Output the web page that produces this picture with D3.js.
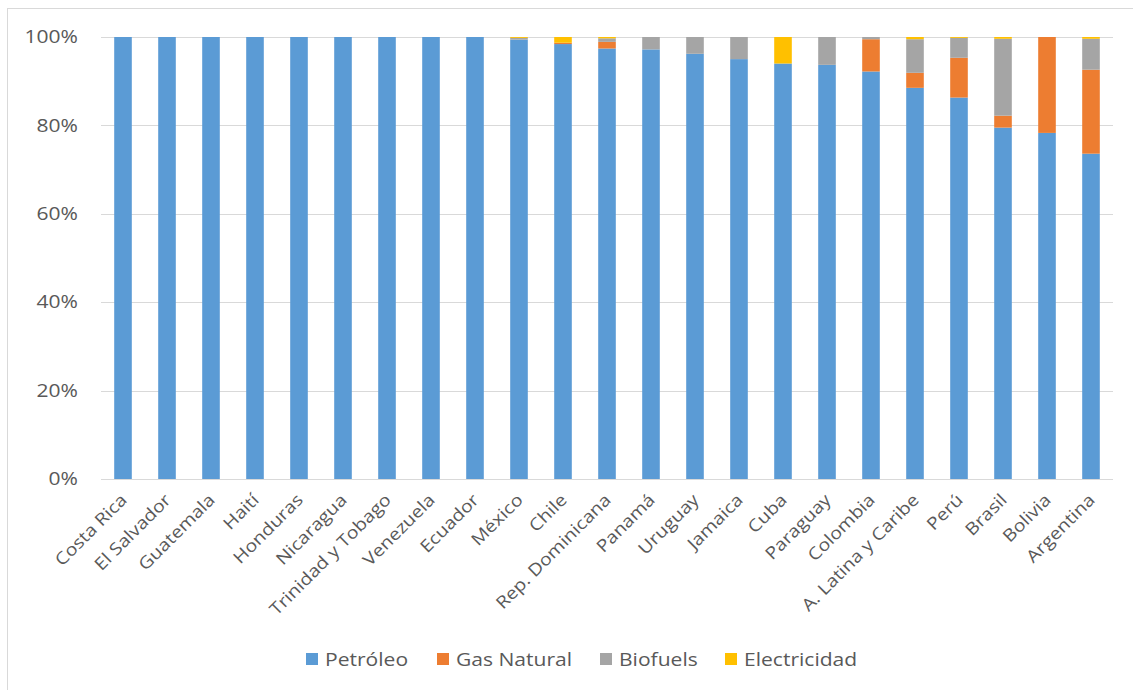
<!DOCTYPE html>
<head>
<meta charset="UTF-8">
<script src="https://d3js.org/d3.v7.min.js"></script>
<style>
  body { margin: 0; background: #fff; }
  text { font-family: "Open Sans", "Noto Sans", sans-serif; fill: #595959; }
</style>
</head>
<body>
<div id="my_dataviz"></div>
<script>

// categories and the share (%) of each fuel
var countries = ["Costa Rica", "El Salvador", "Guatemala", "Haití", "Honduras", "Nicaragua",
  "Trinidad y Tobago", "Venezuela", "Ecuador", "México", "Chile", "Rep. Dominicana", "Panamá",
  "Uruguay", "Jamaica", "Cuba", "Paraguay", "Colombia", "A. Latina y Caribe", "Perú", "Brasil",
  "Bolivia", "Argentina"];
var petroleo     = [100, 100, 100, 100, 100, 100, 100, 100, 100, 99.4, 98.4, 97.4, 97.2, 96.2, 95.0, 94.0, 93.7, 92.2, 88.5, 86.3, 79.5, 78.3, 73.6];
var gasNatural   = [0, 0, 0, 0, 0, 0, 0, 0, 0, 0, 0.3, 1.5, 0, 0, 0, 0, 0, 7.3, 3.4, 9.0, 2.7, 21.7, 19.0];
var biofuels     = [0, 0, 0, 0, 0, 0, 0, 0, 0, 0.4, 0, 0.8, 2.8, 3.8, 5.0, 0, 6.3, 0.5, 7.6, 4.5, 17.4, 0, 7.0];
var electricidad = [0, 0, 0, 0, 0, 0, 0, 0, 0, 0.2, 1.3, 0.3, 0, 0, 0, 6.0, 0, 0, 0.5, 0.2, 0.4, 0, 0.4];

var seriesNames = ["Petróleo", "Gas Natural", "Biofuels", "Electricidad"];
var seriesKeys = ["petroleo", "gas", "bio", "elec"];
var colors = ["#5b9bd5", "#ed7d31", "#a5a5a5", "#ffc000"];
var yTicks = [0, 20, 40, 60, 80, 100];

var data = countries.map(function(c, i) {
  return { country: c, petroleo: petroleo[i], gas: gasNatural[i], bio: biofuels[i], elec: electricidad[i] };
});

var W = 1133, H = 690;
var margin = {top: 37, right: 20, bottom: 211, left: 101};
var width = 1113 - margin.left,
    height = 479 - margin.top;

var root = d3.select("#my_dataviz")
  .append("svg")
    .attr("width", W)
    .attr("height", H);

// chart area border
root.append("rect")
  .attr("x", 7.5).attr("y", 8.5)
  .attr("width", W).attr("height", H)
  .attr("fill", "none")
  .attr("stroke", "#d9d9d9")
  .attr("stroke-width", 1);

var svg = root.append("g")
  .attr("transform", "translate(" + margin.left + "," + margin.top + ")");

var x = d3.scaleBand()
  .range([0, width])
  .domain(countries)
  .paddingInner(0.6)
  .paddingOuter(0.3);

var y = d3.scaleLinear()
  .range([height, 0])
  .domain([0, 100]);

// gridlines
svg.append("g")
  .selectAll("line")
  .data(yTicks)
  .enter()
  .append("line")
    .attr("x1", 0).attr("x2", width)
    .attr("y1", function(d) { return Math.round(y(d)) + 0.5; })
    .attr("y2", function(d) { return Math.round(y(d)) + 0.5; })
    .attr("stroke", "#d9d9d9")
    .attr("stroke-width", 1);

// y axis labels
var yAxis = svg.append("g")
  .call(d3.axisLeft(y).tickValues(yTicks).tickSize(0).tickFormat(function(d) { return d + "%"; }));
yAxis.select(".domain").remove();
yAxis.selectAll("text")
  .style("font-size", "18px")
  .attr("fill", "#595959")
  .attr("x", 0)
  .attr("transform", "translate(-23,0) scale(1.17,1)");

// stacked bars
var stack = d3.stack().keys(seriesKeys);
var layers = stack(data);

svg.append("g")
  .selectAll("g")
  .data(layers)
  .enter()
  .append("g")
    .attr("fill", function(d, i) { return colors[i]; })
  .selectAll("rect")
  .data(function(d) { return d; })
  .enter()
  .append("rect")
    .attr("x", function(d) { return x(d.data.country); })
    .attr("y", function(d) { return y(d[1]); })
    .attr("height", function(d) { return y(d[0]) - y(d[1]); })
    .attr("width", x.bandwidth());

// x axis labels
var xAxis = svg.append("g")
  .attr("transform", "translate(0," + height + ")")
  .call(d3.axisBottom(x).tickSize(0).tickPadding(0));
xAxis.select(".domain").remove();
xAxis.selectAll("text")
  .style("font-size", "17px")
  .attr("fill", "#595959")
  .attr("text-anchor", "end")
  .attr("dy", null)
  .attr("y", 0)
  .attr("transform", "translate(5,22) rotate(-45) scale(1.15,1)");

// legend
var legendX = [306, 437, 600, 725];
var legend = root.append("g");
seriesNames.forEach(function(name, i) {
  legend.append("rect")
    .attr("x", legendX[i]).attr("y", 653)
    .attr("width", 12).attr("height", 12)
    .attr("fill", colors[i]);
  legend.append("text")
    .attr("transform", "translate(" + (legendX[i] + 19) + ",666) scale(1.17,1)")
    .style("font-size", "18px")
    .text(name);
});

</script>
</body>
